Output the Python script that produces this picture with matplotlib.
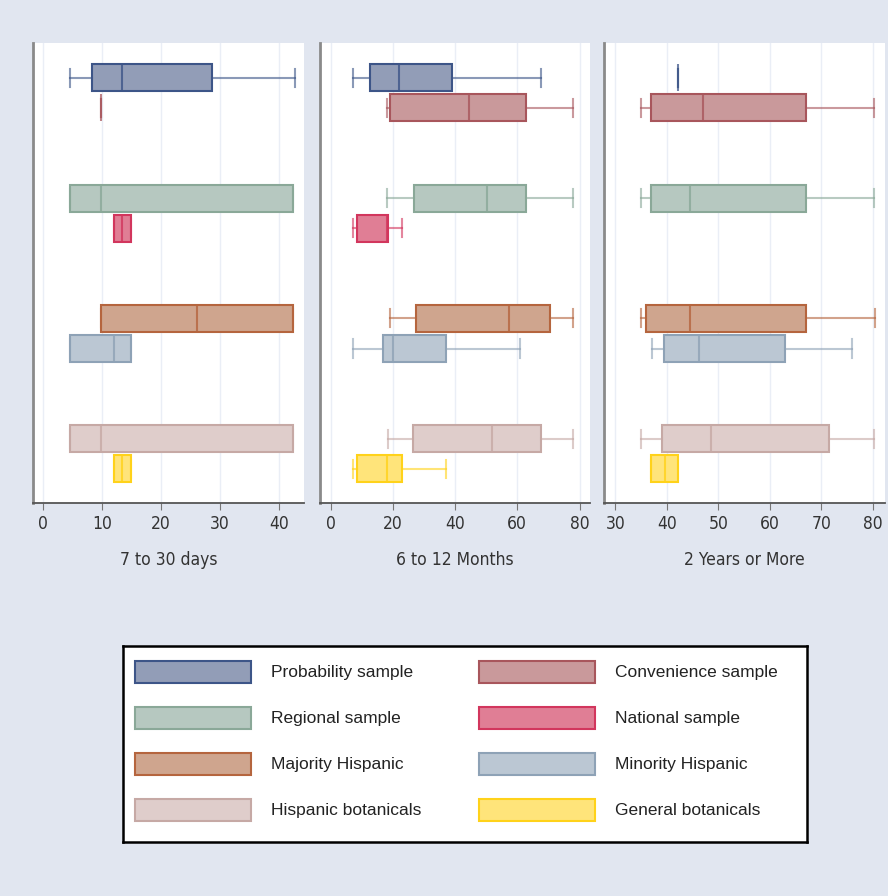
import matplotlib
matplotlib.use("Agg")
import matplotlib.pyplot as plt
from matplotlib import font_manager
from matplotlib.patches import Rectangle

# narrow face for the axis text, if one is around
narrow = None
for f in font_manager.fontManager.ttflist:
    if "Narrow" in f.name or ("DejaVu Sans" == f.name and f.stretch == "condensed"):
        narrow = f
        break
axis_font = dict(family=narrow.name, stretch=narrow.stretch) if narrow else dict(family="DejaVu Sans")

# groups in plotting order (top to bottom)
groups = ["Probability sample", "Convenience sample",
          "Regional sample", "National sample",
          "Majority Hispanic", "Minority Hispanic",
          "Hispanic botanicals", "General botanicals"]
fills = ["#929db7", "#c9999b", "#b6c8c0", "#e07e95",
         "#cfa58e", "#bbc7d3", "#dfcdcb", "#ffe47a"]
edges = ["#3d5588", "#a8565c", "#8aa898", "#d2365d",
         "#b5653e", "#8ea2b6", "#c6a9a5", "#ffd21a"]

periods = ["7 to 30 days", "6 to 12 Months", "2 Years or More"]

# (whisker low, q1, median, q3, whisker high); None = no observations
days_7_30 = [
    (4.7, 8.3, 13.4, 28.7, 42.7),
    (9.9, 9.9, 9.9, 9.9, 9.9),
    (4.6, 4.6, 9.9, 42.5, 42.5),
    (12.0, 12.0, 13.4, 15.0, 15.0),
    (9.9, 9.9, 26.1, 42.5, 42.5),
    (4.6, 4.6, 12.0, 15.0, 15.0),
    (4.6, 4.6, 9.9, 42.5, 42.5),
    (12.0, 12.0, 13.4, 15.0, 15.0),
]
months_6_12 = [
    (7.3, 12.7, 22.1, 38.9, 67.5),
    (18.2, 19.1, 44.6, 62.7, 78.0),
    (18.0, 26.7, 50.2, 62.7, 78.0),
    (7.3, 8.6, 18.0, 18.3, 23.0),
    (19.1, 27.3, 57.3, 70.5, 78.0),
    (7.3, 17.0, 19.9, 37.0, 60.9),
    (18.5, 26.6, 51.8, 67.6, 78.0),
    (7.1, 8.5, 18.2, 22.9, 37.1),
]
years_2_plus = [
    (42.2, 42.2, 42.2, 42.2, 42.2),
    (34.9, 37.0, 47.0, 67.0, 80.3),
    (34.9, 37.0, 44.6, 67.0, 80.3),
    None,
    (34.9, 35.9, 44.6, 67.0, 80.4),
    (37.1, 39.5, 46.2, 62.9, 76.0),
    (34.9, 39.1, 48.5, 71.6, 80.3),
    (37.0, 37.0, 39.6, 42.2, 42.2),
]
panel_data = [days_7_30, months_6_12, years_2_plus]
xticks = [[0, 10, 20, 30, 40], [0, 20, 40, 60, 80], [30, 40, 50, 60, 70, 80]]
xlims = [(-1.65, 44.2), (-3.4, 83.2), (27.8, 82.3)]

positions = [0, 1, 4, 5, 8, 9, 12, 13]

W, H = 888, 896
fig = plt.figure(figsize=(W / 100, H / 100), dpi=100)
fig.patch.set_facecolor("#e1e6f0")

panel_px = [(33, 303.5), (320, 589.5), (604, 884.5)]
top_px, bot_px = 43, 502.5

for k, (x0, x1) in enumerate(panel_px):
    ax = fig.add_axes([x0 / W, 1 - bot_px / H, (x1 - x0) / W, (bot_px - top_px) / H])
    ax.set_facecolor("white")
    for i, st in enumerate(panel_data[k]):
        if st is None:
            continue
        lo, q1, med, q3, hi = st
        # a box with no spread collapses to a faint single stroke
        flat = q1 == q3
        stats = [dict(whislo=lo, q1=q1, med=med, q3=q3, whishi=hi, fliers=[])]
        ax.bxp(stats, positions=[positions[i]], widths=0.9, capwidths=0.6,
               orientation="horizontal", patch_artist=True, showfliers=False,
               manage_ticks=False,
               boxprops=dict(facecolor=fills[i], edgecolor=edges[i],
                             linewidth=1.2 if flat else 1.5,
                             alpha=0.55 if flat else 1),
               medianprops=dict(color=edges[i], linewidth=1.5, alpha=0.5 if flat else 0.8),
               whiskerprops=dict(color=edges[i], linewidth=1.5, alpha=0.6),
               capprops=dict(color=edges[i], linewidth=1.5, alpha=0.6))
    ax.set_xlim(*xlims[k])
    ax.set_ylim(14.12, -1.157)
    ax.set_xticks(xticks[k])
    ax.set_xticklabels([str(t) for t in xticks[k]], fontsize=12.5, color="#333333",
                       **axis_font)
    ax.set_yticks([])
    ax.grid(axis="x", color="#eaeef6", linewidth=1)
    ax.set_axisbelow(True)
    for s in ["top", "right"]:
        ax.spines[s].set_visible(False)
    ax.spines["left"].set_color("#8a8a8a")
    ax.spines["left"].set_linewidth(2)
    ax.spines["bottom"].set_color("#555555")
    ax.spines["bottom"].set_linewidth(1.3)
    ax.tick_params(axis="x", length=5, color="#777777", pad=4)
    ax.set_xlabel(periods[k], fontsize=12.5, color="#333333", labelpad=13, **axis_font)

# legend box
lx0, lx1, ly0, ly1 = 123, 807, 646, 842
lax = fig.add_axes([lx0 / W, 1 - ly1 / H, (lx1 - lx0) / W, (ly1 - ly0) / H])
lax.set_xlim(lx0, lx1)
lax.set_ylim(ly1, ly0)
lax.set_xticks([])
lax.set_yticks([])
for s in lax.spines.values():
    s.set_color("black")
    s.set_linewidth(1.8)

col_x = [135, 479]
row_y = [672, 718, 764, 810]
for i, name in enumerate(groups):
    col = i % 2
    row = i // 2
    x = col_x[col]
    y = row_y[row]
    lax.add_patch(Rectangle((x, y - 11), 116, 22, facecolor=fills[i],
                            edgecolor=edges[i], linewidth=1.5))
    lax.text(x + 136, y, name, va="center", ha="left", fontsize=12.5,
             family=["Liberation Sans", "DejaVu Sans"], color="#222222")

fig.savefig("out.png", dpi=100, facecolor=fig.get_facecolor())
